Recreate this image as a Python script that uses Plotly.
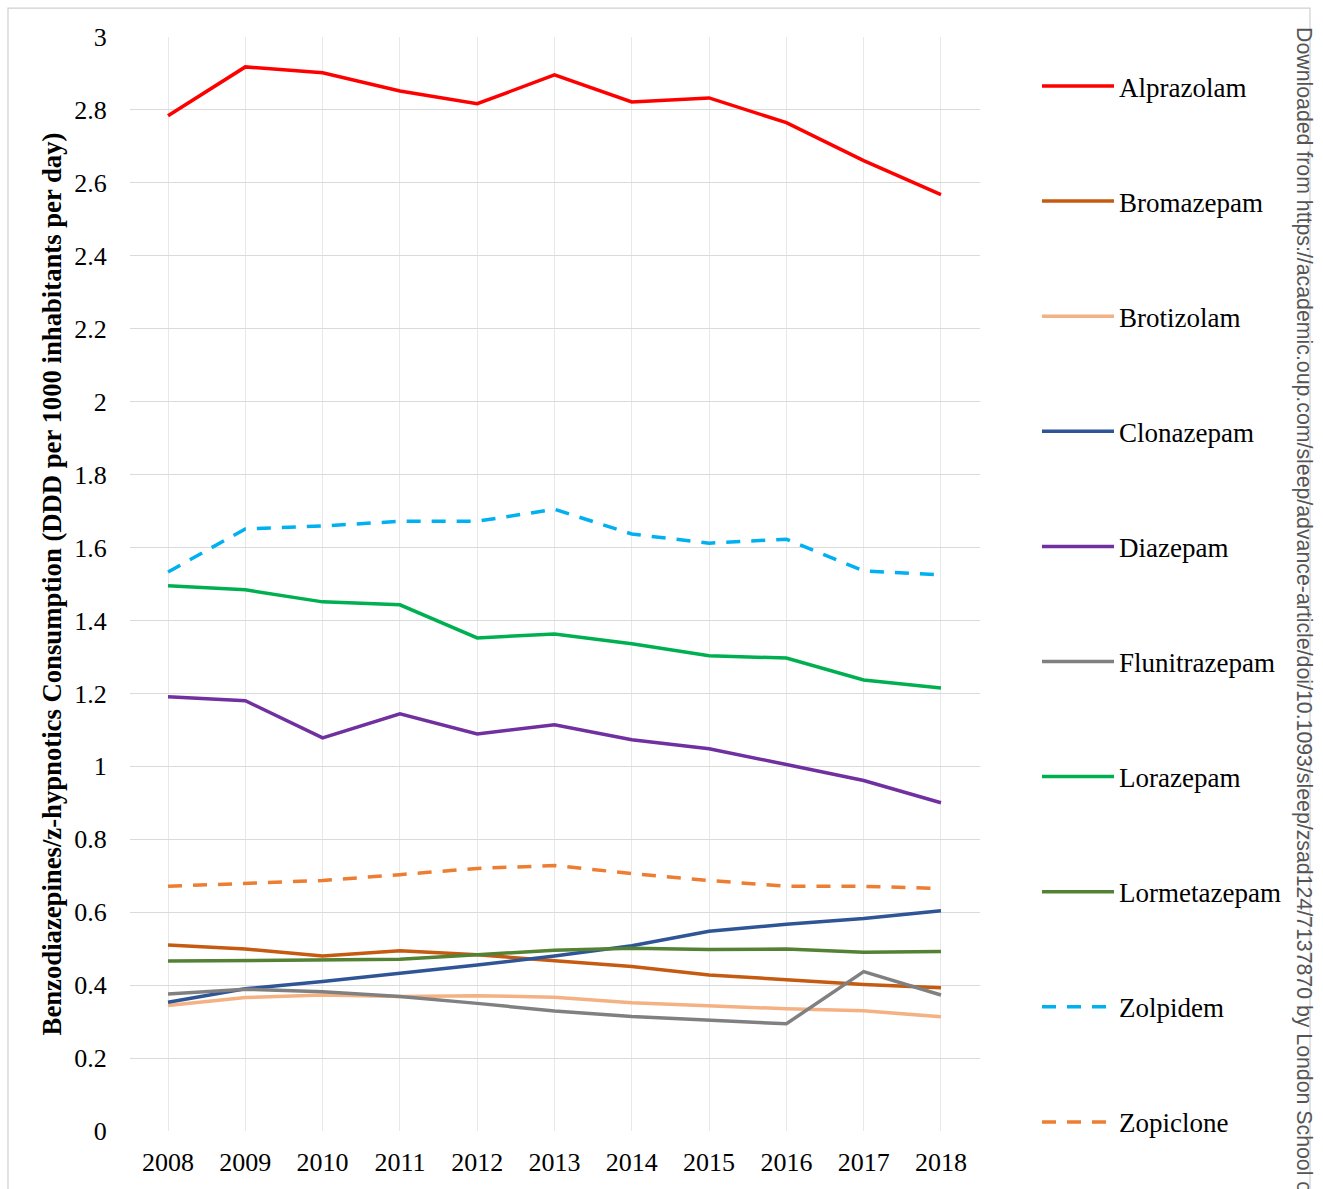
import plotly.graph_objects as go

years = [2008, 2009, 2010, 2011, 2012, 2013, 2014, 2015, 2016, 2017, 2018]

alprazolam    = [2.784, 2.918, 2.902, 2.852, 2.817, 2.896, 2.822, 2.833, 2.765, 2.661, 2.568]
bromazepam    = [0.510, 0.499, 0.480, 0.494, 0.483, 0.468, 0.451, 0.428, 0.414, 0.402, 0.393]
brotizolam    = [0.344, 0.366, 0.373, 0.369, 0.371, 0.367, 0.352, 0.343, 0.335, 0.330, 0.313]
clonazepam    = [0.353, 0.390, 0.410, 0.432, 0.455, 0.480, 0.508, 0.548, 0.567, 0.583, 0.604]
diazepam      = [1.191, 1.180, 1.078, 1.144, 1.089, 1.114, 1.073, 1.048, 1.005, 0.961, 0.900]
flunitrazepam = [0.376, 0.389, 0.382, 0.369, 0.350, 0.329, 0.314, 0.305, 0.294, 0.437, 0.373]
lorazepam     = [1.495, 1.484, 1.451, 1.443, 1.352, 1.363, 1.336, 1.303, 1.297, 1.237, 1.215]
lormetazepam  = [0.466, 0.468, 0.470, 0.471, 0.483, 0.496, 0.501, 0.498, 0.499, 0.490, 0.492]
zolpidem      = [1.533, 1.651, 1.659, 1.672, 1.672, 1.705, 1.637, 1.612, 1.623, 1.536, 1.525]
zopiclone     = [0.671, 0.679, 0.687, 0.703, 0.720, 0.728, 0.706, 0.687, 0.671, 0.671, 0.665]

y_tickvals = [0, 0.2, 0.4, 0.6, 0.8, 1, 1.2, 1.4, 1.6, 1.8, 2, 2.2, 2.4, 2.6, 2.8, 3]
y_ticktext = ["0", "0.2", "0.4", "0.6", "0.8", "1", "1.2", "1.4", "1.6", "1.8",
              "2", "2.2", "2.4", "2.6", "2.8", "3"]

series = [
    ("Alprazolam", alprazolam, "#FF0000", "solid"),
    ("Bromazepam", bromazepam, "#C55A11", "solid"),
    ("Brotizolam", brotizolam, "#F4B183", "solid"),
    ("Clonazepam", clonazepam, "#2F5597", "solid"),
    ("Diazepam", diazepam, "#7030A0", "solid"),
    ("Flunitrazepam", flunitrazepam, "#808080", "solid"),
    ("Lorazepam", lorazepam, "#00B050", "solid"),
    ("Lormetazepam", lormetazepam, "#548235", "solid"),
    ("Zolpidem", zolpidem, "#00B0F0", "14px,11px"),
    ("Zopiclone", zopiclone, "#ED7D31", "14px,11px"),
]

fig = go.Figure()
for name, vals, color, dash in series:
    fig.add_trace(go.Scatter(
        x=years, y=vals, name=name, mode="lines",
        line=dict(color=color, width=3.5, dash=dash),
        legendgroup=name,
    ))

W, H = 1323, 1189
L, R, T, B = 130, 343, 37, 56
pw = W - L - R
ph = H - T - B

serif = "Liberation Serif, Times New Roman, serif"

fig.update_layout(
    width=W, height=H,
    margin=dict(l=L, r=R, t=T, b=B),
    paper_bgcolor="white", plot_bgcolor="white",
    font=dict(family=serif, size=25, color="black"),
    showlegend=True,
    legend=dict(
        x=(1037 - L) / pw, xanchor="left",
        y=(H - B - 62) / ph, yanchor="top",
        tracegroupgap=77,
        font=dict(family=serif, size=27, color="black"),
        itemwidth=72,
        maxheight=1.0,
        bgcolor="rgba(0,0,0,0)",
    ),
    xaxis=dict(
        tickmode="array", tickvals=years, ticktext=[str(y) for y in years],
        range=[2007.508, 2018.505],
        showgrid=True, gridcolor="#E8E8E8", gridwidth=1.3,
        zeroline=False, showline=False,
        ticks="outside", ticklen=8, tickcolor="rgba(0,0,0,0)",
        tickfont=dict(family=serif, size=26),
    ),
    yaxis=dict(
        range=[0, 3], tickmode="array",
        tickvals=y_tickvals, ticktext=y_ticktext,
        showgrid=True, gridcolor="#DADADA", gridwidth=1.4,
        zeroline=False, showline=False,
        ticks="outside", ticklen=17, tickcolor="rgba(0,0,0,0)",
        tickfont=dict(family=serif, size=26),
        title=dict(
            text="<b>Benzodiazepines/z-hypnotics Consumption (DDD per 1000 inhabitants per day)</b>",
            font=dict(family=serif, size=26.7), standoff=4,
        ),
    ),
)

# outer chart border
fig.add_shape(type="rect", xref="paper", yref="paper",
              x0=(8 - L) / pw, x1=(1310 - L) / pw,
              y0=(H - B - 1200) / ph, y1=(H - B - 8) / ph,
              line=dict(color="#D0D0D0", width=1.2), fillcolor="rgba(0,0,0,0)", layer="below")

# watermark
fig.add_annotation(
    text="Downloaded from https://academic.oup.com/sleep/advance-article/doi/10.1093/sleep/zsad124/7137870 by London School of",
    xref="paper", yref="paper", x=(1304 - L) / pw, y=(H - B - 25) / ph,
    xanchor="center", yanchor="top", textangle=90, showarrow=False,
    font=dict(family="Liberation Sans, Arial, sans-serif", size=21.3, color="#555555"),
)

fig.write_html("out.html", config={"displayModeBar": False},
               post_script="document.body.style.margin='0';document.body.style.overflow='hidden';")
